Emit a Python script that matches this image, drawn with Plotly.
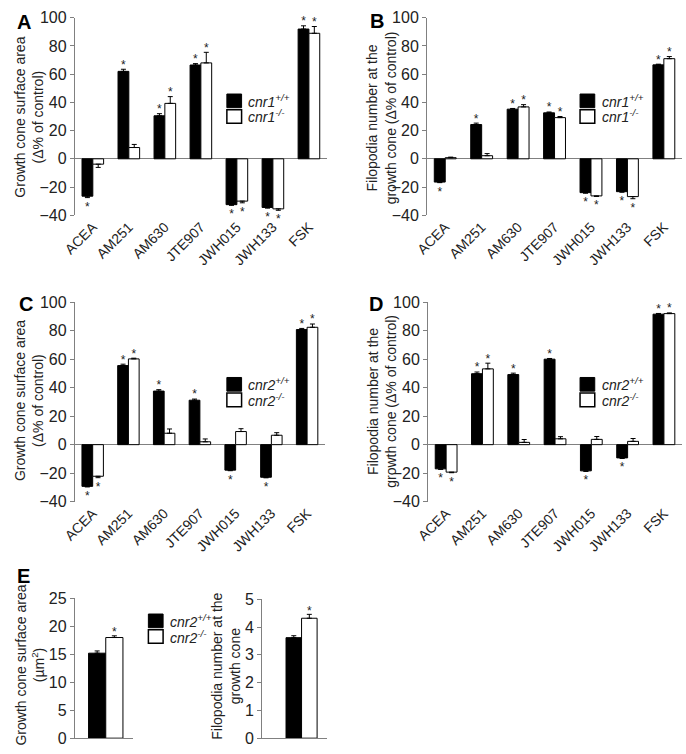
import plotly.graph_objects as go

W, H = 686, 754

# ---------------- data ----------------
drugs = ["ACEA", "AM251", "AM630", "JTE907", "JWH015", "JWH133", "FSK"]

# Panel A: growth cone surface area, cnr1
A_wt = [-26.5, 62, 30.5, 66.5, -32.5, -34.5, 92]
A_wt_err = [1, 1.5, 1.5, 1, 0.5, 0.5, 2.3]
A_ko = [-3.8, 8, 39.3, 68, -30, -35.5, 89]
A_ko_err = [2.3, 2.2, 4.8, 7.5, 1.2, 1, 4.8]
A_wt_sig = [1, 1, 1, 1, 1, 1, 1]
A_ko_sig = [0, 0, 1, 1, 1, 1, 1]

# Panel B: filopodia number, cnr1
B_wt = [-16.5, 24.3, 35.2, 32.6, -24, -23.3, 66.6]
B_wt_err = [0.4, 1, 0.5, 0.6, 0.4, 0.4, 0.5]
B_ko = [0.8, 2.2, 36.8, 29.2, -26.3, -26.8, 71]
B_ko_err = [0.4, 1.5, 1.6, 0.8, 0.4, 1.5, 1.5]
B_wt_sig = [1, 1, 1, 1, 1, 1, 1]
B_ko_sig = [0, 0, 1, 1, 1, 1, 1]

# Panel C: growth cone surface area, cnr2
C_wt = [-29.3, 55.5, 37.6, 31.2, -17.9, -22.9, 80.8]
C_wt_err = [0.4, 1, 1, 0.8, 0.4, 0.4, 0.8]
C_ko = [-22.2, 60.2, 8, 2, 9.2, 6.6, 82.4]
C_ko_err = [1, 0.5, 3, 2, 2, 1.8, 2.3]
C_wt_sig = [1, 1, 1, 1, 1, 1, 1]
C_ko_sig = [1, 1, 0, 0, 0, 0, 1]

# Panel D: filopodia number, cnr2
D_wt = [-17, 49.8, 49.2, 60, -18.4, -9.3, 91.6]
D_wt_err = [0.4, 1.2, 1, 0.5, 0.4, 0.4, 0.5]
D_ko = [-19.3, 53.2, 1.6, 4.1, 3.7, 2.3, 92]
D_ko_err = [0.4, 4, 2, 1.5, 2, 2, 0.5]
D_wt_sig = [1, 1, 1, 1, 1, 1, 1]
D_ko_sig = [1, 1, 0, 0, 0, 0, 1]

# Panel E: absolute values, cnr2
E_cat = [""]
E_area_wt, E_area_wt_err = [15.2], [0.4]
E_area_ko, E_area_ko_err = [18.0], [0.3]
E_filo_wt, E_filo_wt_err = [3.62], [0.07]
E_filo_ko, E_filo_ko_err = [4.32], [0.14]
E_wt_sig, E_ko_sig = [0], [1]

AX_GRAY = "#808080"
FONT = "Arial, Liberation Sans, sans-serif"

fig = go.Figure()


def xd(a, b):
    return [a / W, b / W]


def yd(top, bottom):
    return [1 - bottom / H, 1 - top / H]


def err_arrays(vals, errs):
    plus = [e if v >= 0 else 0 for v, e in zip(vals, errs)]
    minus = [e if v < 0 else 0 for v, e in zip(vals, errs)]
    return plus, minus


def panel(idx, cats, wt, wt_err, ko, ko_err, wt_sig, ko_sig, span):
    xa = "x" if idx == 1 else f"x{idx}"
    ya = "y" if idx == 1 else f"y{idx}"
    pos = list(range(len(cats)))
    for vals, errs, sig, fill, dx in [
        (wt, wt_err, wt_sig, "black", -0.15),
        (ko, ko_err, ko_sig, "white", 0.15),
    ]:
        p, m = err_arrays(vals, errs)
        xs = [i + dx for i in pos]
        fig.add_trace(go.Bar(
            x=xs, y=vals, xaxis=xa, yaxis=ya, width=0.3,
            marker=dict(color=fill, line=dict(color="black", width=1)),
            error_y=dict(type="data", symmetric=False, array=p, arrayminus=m,
                         color="black", thickness=1, width=2.5),
            showlegend=False, hoverinfo="skip",
        ))
        sx, sy, sp = [], [], []
        for x, v, e, s in zip(xs, vals, errs, sig):
            if not s:
                continue
            sx.append(x)
            if v >= 0:
                sy.append(v + e + 0.018 * span)
                sp.append("middle center")
            else:
                sy.append(v - e - 0.02 * span)
                sp.append("bottom center")
        if sx:
            fig.add_trace(go.Scatter(
                x=sx, y=sy, xaxis=xa, yaxis=ya, mode="text", text=["*"] * len(sx),
                textposition=sp,
                textfont=dict(size=12, color="#222", family=FONT),
                cliponaxis=False, showlegend=False, hoverinfo="skip",
            ))


panel(1, drugs, A_wt, A_wt_err, A_ko, A_ko_err, A_wt_sig, A_ko_sig, 140)
panel(2, drugs, B_wt, B_wt_err, B_ko, B_ko_err, B_wt_sig, B_ko_sig, 140)
panel(3, drugs, C_wt, C_wt_err, C_ko, C_ko_err, C_wt_sig, C_ko_sig, 140)
panel(4, drugs, D_wt, D_wt_err, D_ko, D_ko_err, D_wt_sig, D_ko_sig, 140)
panel(5, E_cat, E_area_wt, E_area_wt_err, E_area_ko, E_area_ko_err, E_wt_sig, E_ko_sig, 25)
panel(6, E_cat, E_filo_wt, E_filo_wt_err, E_filo_ko, E_filo_ko_err, E_wt_sig, E_ko_sig, 5)

tickfont = dict(size=16, color="#222", family=FONT)
xtickfont = dict(size=14, color="#222", family=FONT)

geo = {
    1: ((63, 320), (10, 212)),
    2: ((422, 682), (10, 212)),
    3: ((63, 318), (301, 505)),
    4: ((423, 682), (301, 505)),
    5: ((63, 122), (604, 747)),
    6: ((254, 320), (605, 747)),
}

layout = dict(
    width=W, height=H, margin=dict(l=0, r=0, t=0, b=0),
    paper_bgcolor="white", plot_bgcolor="white",
    font=dict(family=FONT, color="#222"),
    showlegend=False,
)

for i, ((x0, x1), (t, b)) in geo.items():
    xk = "xaxis" if i == 1 else f"xaxis{i}"
    yk = "yaxis" if i == 1 else f"yaxis{i}"
    ya = "y" if i == 1 else f"y{i}"
    xa = "x" if i == 1 else f"x{i}"
    if i <= 4:
        layout[xk] = dict(
            domain=xd(x0, x1), anchor=ya, range=[-0.5, 6.5],
            tickmode="array", tickvals=list(range(len(drugs))), ticktext=drugs,
            tickangle=-45, tickfont=xtickfont, showline=False, ticks="",
            showgrid=False, zeroline=False, fixedrange=True,
        )
        layout[yk] = dict(
            domain=yd(t, b), anchor=xa, range=[-40, 100], dtick=20,
            showline=True, linecolor=AX_GRAY, linewidth=1, ticks="outside",
            ticklen=4, tickcolor=AX_GRAY, tickfont=tickfont, showgrid=False,
            zeroline=True, zerolinecolor=AX_GRAY, zerolinewidth=1,
        )
    else:
        rng = [-0.54, 0.47] if i == 5 else [-0.76, 0.49]
        yr = [0, 25] if i == 5 else [0, 5]
        dt = 5 if i == 5 else 1
        layout[xk] = dict(
            domain=xd(x0, x1), anchor=ya, range=rng, showticklabels=False,
            showline=True, linecolor=AX_GRAY, linewidth=1, ticks="",
            showgrid=False, zeroline=False,
        )
        layout[yk] = dict(
            domain=yd(t, b), anchor=xa, range=yr, dtick=dt,
            showline=True, linecolor=AX_GRAY, linewidth=1, ticks="outside",
            ticklen=4, tickcolor=AX_GRAY, tickfont=tickfont, showgrid=False,
            zeroline=False,
        )

fig.update_layout(**layout)

annotations = []
shapes = []

# panel letters
for letter, (px, py) in {"A": (11, 14), "B": (371, 13), "C": (13, 303),
                         "D": (370, 303), "E": (11, 581)}.items():
    annotations.append(dict(
        x=px / W, y=1 - py / H, xref="paper", yref="paper", text=f"<b>{letter}</b>",
        showarrow=False, font=dict(size=20, family=FONT, color="black"),
        xanchor="center", yanchor="middle",
    ))

# y-axis titles
ytitles = [
    ("Growth cone surface area<br>(Δ% of control)", 16.5, 112),
    ("Filopodia number at the<br>growth cone (Δ% of control)", 376, 112),
    ("Growth cone surface area<br>(Δ% of control)", 16.5, 402),
    ("Filopodia number at the<br>growth cone (Δ% of control)", 376, 402),
    ("Growth cone surface area<br>(µm<sup>2</sup>)", 17, 672),
    ("Filopodia number at the<br>growth cone", 217, 673),
]
for txt, px, py in ytitles:
    annotations.append(dict(
        x=px / W, y=1 - py / H, xref="paper", yref="paper", text=txt,
        showarrow=False, textangle=-90, font=dict(size=14, family=FONT, color="#222"),
        xanchor="center", yanchor="middle",
    ))

# legends
legends = [
    ("cnr1", 218, 88),
    ("cnr1", 578, 88),
    ("cnr2", 218, 378),
    ("cnr2", 578, 378),
    ("cnr2", 138, 620),
]
for gene, lx, ly in legends:
    shapes.append(dict(type="rect", xref="paper", yref="paper",
                       x0=lx / W, x1=(lx + 15) / W, y0=1 - (ly + 14) / H, y1=1 - ly / H,
                       fillcolor="black", line=dict(color="black", width=1)))
    shapes.append(dict(type="rect", xref="paper", yref="paper",
                       x0=lx / W, x1=(lx + 15) / W, y0=1 - (ly + 30) / H, y1=1 - (ly + 16) / H,
                       fillcolor="white", line=dict(color="black", width=1.5)))
    annotations.append(dict(
        x=(lx + 20) / W, y=1 - (ly + 7) / H, xref="paper", yref="paper",
        text=f"<i>{gene}<sup>+/+</sup></i>", showarrow=False, xanchor="left",
        yanchor="middle", font=dict(size=14, family=FONT, color="#222")))
    annotations.append(dict(
        x=(lx + 20) / W, y=1 - (ly + 23) / H, xref="paper", yref="paper",
        text=f"<i>{gene}<sup>-/-</sup></i>", showarrow=False, xanchor="left",
        yanchor="middle", font=dict(size=14, family=FONT, color="#222")))

fig.update_layout(annotations=annotations, shapes=shapes)

fig.write_html(
    "out.html",
    config={"displayModeBar": False},
    post_script="document.body.style.margin='0';document.body.style.overflow='hidden';",
)
